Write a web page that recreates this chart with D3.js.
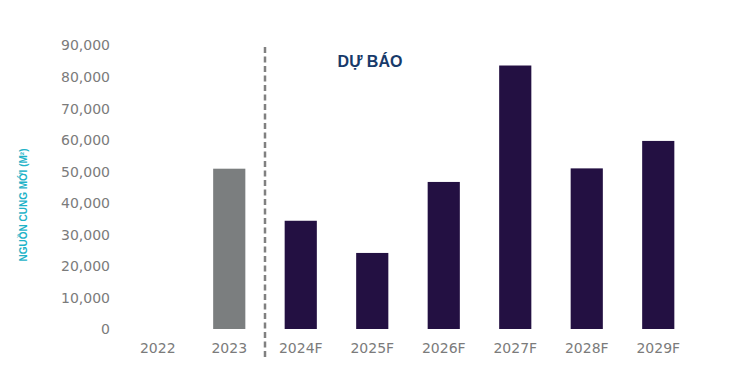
<!DOCTYPE html>
<html lang="vi">
<head>
<meta charset="UTF-8">
<title>Nguon cung moi</title>
<style>
    body{ margin:0; background:#fff; }
    .axis text{ font-family: "DejaVu Sans", sans-serif; font-size:14px; fill:#7b7b7b; }
    .axis path, .axis line{ display:none; }
</style>
<script src="https://cdn.jsdelivr.net/npm/d3@7"></script>
</head>
<body>
<div id="container"></div>
<script>
    const years = ["2022","2023","2024F","2025F","2026F","2027F","2028F","2029F"];
    const supply = [0, 50800, 34300, 24100, 46600, 83500, 50900, 59600];
    const yTicks = [0,10000,20000,30000,40000,50000,60000,70000,80000,90000];

    const width = 732, height = 384;
    const svg = d3.select("#container").append("svg")
        .attr("width", width).attr("height", height);

    const xScale = d3.scaleBand().domain(years).range([122, 694]).paddingInner(0.55).paddingOuter(0.275);
    const yScale = d3.scaleLinear().domain([0, 90000]).range([329, 45]);

    // y axis labels
    svg.append("g").attr("class","axis")
        .attr("transform","translate(118,0)")
        .call(d3.axisLeft(yScale).tickValues(yTicks).tickSize(0).tickPadding(8).tickFormat(d3.format(",")))
        .call(g => g.selectAll("text").attr("dy","0.35em"));

    // x axis labels
    svg.append("g").attr("class","axis")
        .attr("transform","translate(0,340)")
        .call(d3.axisBottom(xScale).tickSize(0).tickPadding(3));

    // y title
    svg.append("text")
        .attr("transform","translate(27,205) rotate(-90)")
        .attr("text-anchor","middle")
        .style("font-family","Liberation Sans, Arial, sans-serif")
        .style("font-weight","bold")
        .style("font-size","10px")
        .style("fill","#1fb3c8")
        .text("NGUỒN CUNG MỚI (M²)");

    // bars
    svg.append("g").selectAll("rect")
        .data(years.map((y,i) => ({year:y, value:supply[i]})).filter(d => d.value > 0))
        .enter().append("rect")
        .attr("x", d => xScale(d.year))
        .attr("width", xScale.bandwidth())
        .attr("y", d => yScale(d.value))
        .attr("height", d => yScale(0) - yScale(d.value))
        .attr("fill", d => d.year.endsWith("F") ? "#231042" : "#7b7e7f");

    // forecast divider
    const divX = (xScale("2023") + xScale("2024F") + xScale.bandwidth()) / 2;
    svg.append("line")
        .attr("x1", divX).attr("x2", divX)
        .attr("y1", 47).attr("y2", 358)
        .attr("stroke","#808080").attr("stroke-width",2.5)
        .attr("stroke-dasharray","6,3.5");

    svg.append("text")
        .attr("x", 370).attr("y", 67)
        .attr("text-anchor","middle")
        .style("font-family","Liberation Sans, Arial, sans-serif")
        .style("font-weight","bold")
        .style("font-size","16px")
        .style("fill","#173a6a")
        .text("DỰ BÁO");
</script>
</body>
</html>
